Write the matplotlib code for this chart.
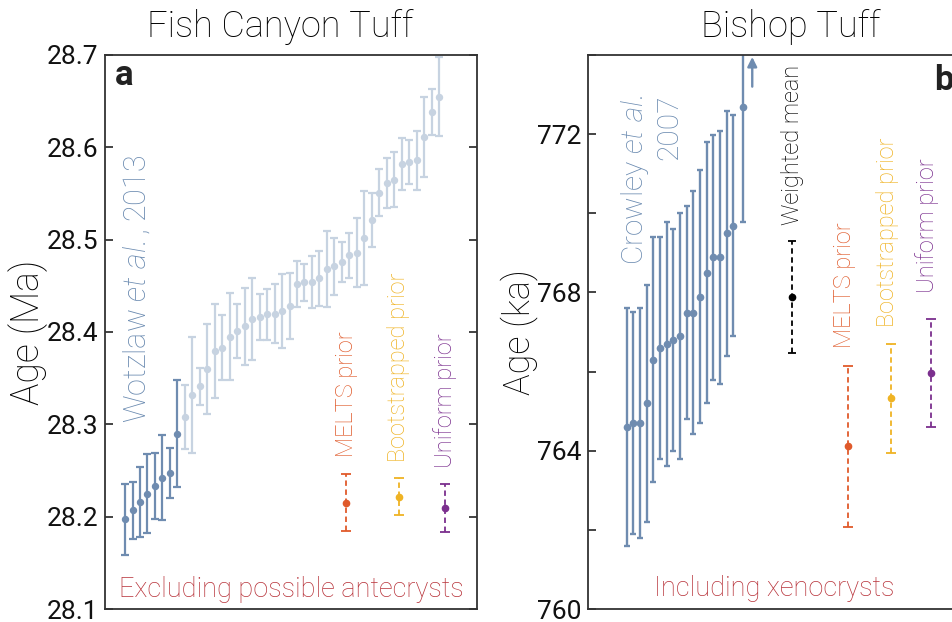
import numpy as np
import matplotlib
matplotlib.use("Agg")
from matplotlib import pyplot as plt

plt.rcParams['font.family'] = ['Roboto', 'DejaVu Sans']
plt.rcParams['font.weight'] = 'light'
plt.rcParams['mathtext.fontset'] = 'custom'
plt.rcParams['mathtext.it'] = 'Roboto:italic:light'
plt.rcParams['mathtext.rm'] = 'Roboto:light'

# Fish Canyon Tuff (Wotzlaw et al., 2013), ranked zircon ages, Ma
fctAgeDark = [28.197, 28.207, 28.216, 28.225, 28.233, 28.242, 28.247, 28.290]
fctErrDark = [0.038, 0.031, 0.038, 0.043, 0.036, 0.046, 0.027, 0.058]
fctAgeLight = [28.308, 28.332, 28.341, 28.360, 28.379, 28.383, 28.395, 28.401, 28.406, 28.414,
               28.416, 28.419, 28.420, 28.423, 28.428, 28.452, 28.454, 28.454, 28.458, 28.468,
               28.471, 28.476, 28.483, 28.486, 28.502, 28.521, 28.551, 28.561, 28.565, 28.582,
               28.584, 28.586, 28.611, 28.638, 28.655]
fctErrLight = [0.035, 0.063, 0.020, 0.049, 0.051, 0.035, 0.047, 0.029, 0.042, 0.044,
               0.025, 0.028, 0.032, 0.040, 0.036, 0.025, 0.020, 0.028, 0.030, 0.041,
               0.031, 0.022, 0.024, 0.037, 0.051, 0.029, 0.025, 0.027, 0.030, 0.028,
               0.024, 0.032, 0.043, 0.025, 0.043]
fctPriorNames = ['MELTS prior', 'Bootstrapped prior', 'Uniform prior']
fctPriorAge = [28.2153, 28.2214, 28.2089]
fctPriorErr = [0.031, 0.020, 0.026]
fctPriorX = [30.56, 37.61, 43.76]

# Bishop Tuff (Crowley et al. 2007), ka
btX = [1, 2, 3, 4, 5, 6, 7, 8, 9, 10, 11, 12, 13, 14, 15, 16, 17, 18.5]
btAge = [764.60, 764.70, 764.70, 765.20, 766.30, 766.59, 766.69, 766.79, 766.90, 767.49,
         767.49, 767.89, 768.50, 768.89, 768.89, 769.49, 769.69, 772.68]
btErr = [3.0, 2.8, 2.9, 3.0, 3.1, 2.8, 3.08, 2.8, 3.1, 2.7,
         3.08, 3.2, 3.3, 3.1, 3.2, 3.1, 2.8, 2.9]
btWeightedMean = 767.89
btWeightedErr = 1.42
btPriorAge = [764.11, 765.32, 765.96]
btPriorErr = [2.03, 1.37, 1.36]
btPriorX = [34.24, 40.68, 46.73]
btWeightedX = 25.85

priorColors = ['#e05a2b', '#efb324', '#7b2f8e']
darkBlue = '#6f8cb0'
lightBlue = '#c7d3e1'
labelBlue = '#6a8ab0'
noteRed = '#b8333a'

fig = plt.figure(figsize=(9.53, 6.22), dpi=100)
axA = fig.add_axes([0.1102, 0.0209, 0.3903, 0.8907])
axB = fig.add_axes([0.6170, 0.0209, 0.3903, 0.8907])


def styleAxis(ax):
    for spine in ax.spines.values():
        spine.set_color('#333333')
        spine.set_linewidth(1.3)
    ax.tick_params(axis='y', direction='in', length=6, width=1.1, labelsize=19,
                   right=True, pad=5, colors='#111111')
    ax.tick_params(axis='x', bottom=False, labelbottom=False)
    for label in ax.get_yticklabels():
        label.set_fontweight('normal')


def priorBar(ax, x, y, err, color, capsize=3.5):
    bar = ax.errorbar(x, y, yerr=err, fmt='o', color=color, ms=4.5, lw=1.3,
                      capsize=capsize, capthick=1.3)
    bar[2][0].set_linestyle((0, (3, 2)))


# ---- panel a ----
xDark = np.arange(1, len(fctAgeDark) + 1)
xLight = np.arange(len(fctAgeDark) + 1, len(fctAgeDark) + len(fctAgeLight) + 1)
axA.errorbar(xLight, fctAgeLight, yerr=fctErrLight, fmt='o', color=lightBlue, ms=4.3,
             lw=1.6, capsize=3, capthick=1.6)
axA.errorbar(xDark, fctAgeDark, yerr=fctErrDark, fmt='o', color=darkBlue, ms=4.3,
             lw=1.6, capsize=3, capthick=1.6)
for name, x, y, err, color in zip(fctPriorNames, fctPriorX, fctPriorAge, fctPriorErr, priorColors):
    priorBar(axA, x, y, err, color)
    axA.text(x, y + err + 0.018, name, rotation=90, ha='center', va='bottom',
             color=color, fontsize=17)
axA.set_xlim(-1.68, 48.08)
axA.set_ylim(28.1, 28.7)
axA.set_yticks(np.arange(28.1, 28.71, 0.1))
axA.set_yticklabels([f'{v:.1f}' for v in np.arange(28.1, 28.71, 0.1)])
styleAxis(axA)
axA.text(0.086, 0.336, r'Wotzlaw $\it{et\ al.}$, 2013', transform=axA.transAxes,
         rotation=90, ha='center', va='bottom', color=labelBlue, fontsize=22)
axA.text(0.5, 0.022, 'Excluding possible antecrysts', transform=axA.transAxes,
         ha='center', va='baseline', color=noteRed, fontsize=19.5)
axA.text(0.027, 0.946, 'a', transform=axA.transAxes, ha='left', va='baseline',
         fontsize=25, fontweight='bold', color='#222222')
axA.text(0.47, 1.032, 'Fish Canyon Tuff', transform=axA.transAxes, ha='center',
         va='baseline', fontsize=26, color='black')
axA.text(-0.207, 0.5, 'Age (Ma)', transform=axA.transAxes, rotation=90,
         ha='center', va='center', fontsize=27, color='black')

# ---- panel b ----
axB.errorbar(btX, btAge, yerr=btErr, fmt='o', color=darkBlue, ms=4.5, lw=1.7,
             capsize=2.2, capthick=1.7)
axB.annotate('', xy=(19.84, 773.95), xytext=(19.84, 773.2),
             arrowprops=dict(arrowstyle='-|>', color=darkBlue, lw=1.7,
                             mutation_scale=14, shrinkA=0, shrinkB=0))
priorBar(axB, btWeightedX, btWeightedMean, btWeightedErr, 'black', capsize=3)
axB.text(btWeightedX, 769.70, 'Weighted mean', rotation=90, ha='center', va='bottom',
         color='black', fontsize=17)
labelBottoms = [766.60, 767.13, 767.98]
for name, x, y, err, color, bottom in zip(fctPriorNames, btPriorX, btPriorAge, btPriorErr,
                                          priorColors, labelBottoms):
    priorBar(axB, x, y, err, color)
    axB.text(x - 0.6, bottom, name, rotation=90, ha='center', va='bottom',
             color=color, fontsize=17)
axB.set_xlim(-4.8, 51.0)
axB.set_ylim(760, 774)
axB.set_yticks(np.arange(760, 775, 2))
axB.set_yticklabels([str(v) if v % 4 == 0 else '' for v in range(760, 775, 2)])
styleAxis(axB)
axB.text(0.169, 0.928, 'Crowley $\\it{et\\ al.}$\n2007', transform=axB.transAxes,
         rotation=90, ha='center', va='top', multialignment='right',
         color=labelBlue, fontsize=21.5)
axB.text(0.5, 0.0235, 'Including xenocrysts', transform=axB.transAxes,
         ha='center', va='baseline', color=noteRed, fontsize=19.5)
axB.text(0.93, 0.937, 'b', transform=axB.transAxes, ha='left', va='baseline',
         fontsize=25, fontweight='bold', color='#222222')
axB.text(0.546, 1.032, 'Bishop Tuff', transform=axB.transAxes, ha='center',
         va='baseline', fontsize=26, color='black')
axB.text(-0.185, 0.5, 'Age (ka)', transform=axB.transAxes, rotation=90,
         ha='center', va='center', fontsize=26, color='black')

fig.savefig('out.png', dpi=100)
